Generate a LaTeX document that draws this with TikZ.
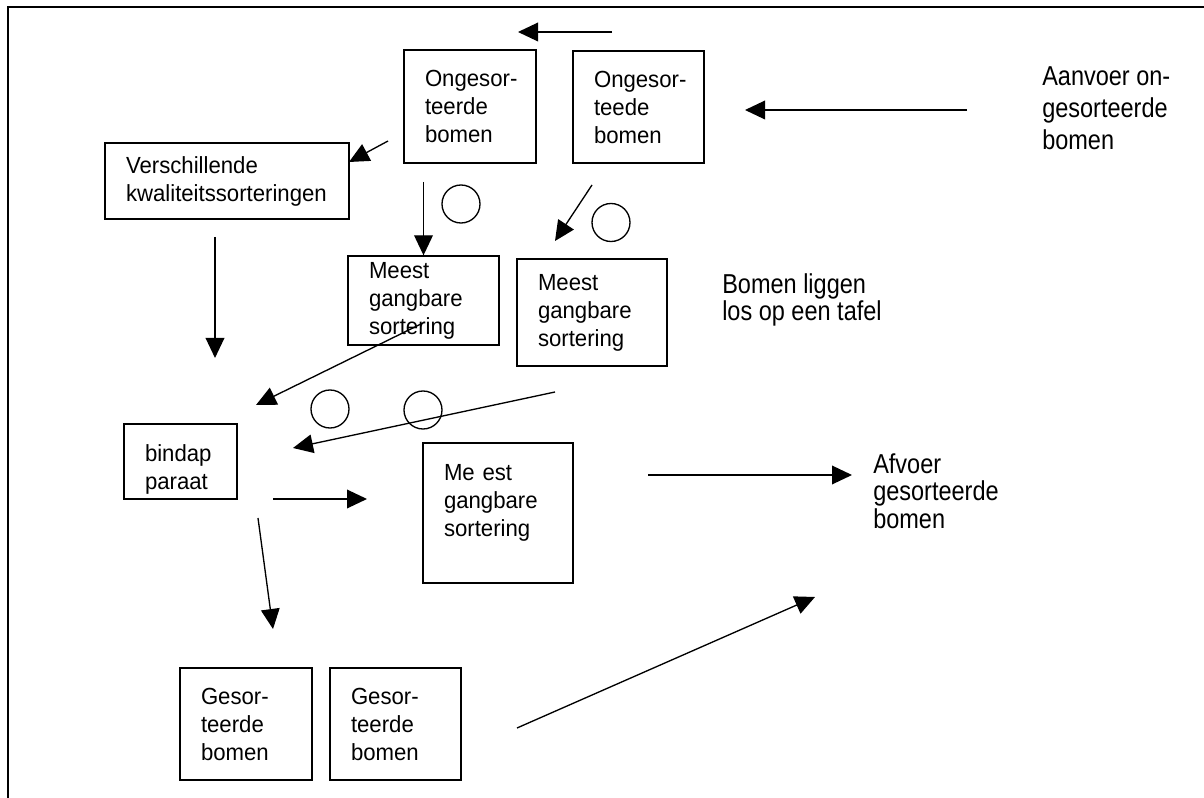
\documentclass[tikz,border=0pt]{standalone}
\usepackage{fontspec}
\setmainfont{Liberation Sans}[FakeStretch=0.95]
\newfontfamily\frfam{Liberation Sans}[FakeStretch=0.86]
\usetikzlibrary{arrows.meta}
\hyphenpenalty=10000
\exhyphenpenalty=10000
\newcommand\bxfont{\fontsize{17.5}{21}\selectfont}
\begin{document}
\begin{tikzpicture}[x=0.75pt,y=-0.75pt,
  box/.style={draw, line width=1pt, inner xsep=15.75pt, inner ysep=0pt, align=left, font=\bxfont},
  freetext/.style={inner sep=0pt, anchor=west, align=left},
  arr/.style={line width=1pt, -{Triangle[length=15pt,width=14pt]}},
  ring/.style={draw, circle, line width=1pt, minimum size=28.5pt, inner sep=0pt}]
\useasboundingbox (0,0) rectangle (1204,798);
% frame
\draw[line width=1.2pt] (8,798) -- (8,7) -- (1204,7);
% boxes
\node[box, text width=67.5pt, minimum height=84.75pt] (O1) at (470,106.5) {Ongesor-\\teerde\\bomen};
\node[box, text width=66.75pt, minimum height=84pt] (O2) at (638.5,107) {Ongesor-\\teede\\bomen};
\node[box, text width=151.5pt, minimum height=57pt] (V) at (227,181) {Verschillende\\kwaliteitssorteringen};
\node[box, text width=81.75pt, minimum height=66.75pt] (M1) at (423.5,300.5) {Meest\\gangbare\\sortering};
\node[box, text width=81pt, minimum height=80.25pt] (M2) at (592,312.5) {Meest\\gangbare\\sortering};
\node[box, text width=53.25pt, minimum height=56.25pt] (B) at (180.5,461.5) {\rule{0pt}{24pt}bindap\\paraat};
\node[box, text width=81pt, minimum height=105pt] (M3) at (498,513) {Me est\\gangbare\\sortering\rule[-19pt]{0pt}{19pt}};
\node[box, text width=67.5pt, minimum height=84pt] (G1) at (246,724) {Gesor-\\teerde\\bomen};
\node[box, text width=66.75pt, minimum height=84pt] (G2) at (395.5,724) {Gesor-\\teerde\\bomen};
% free texts
\node[freetext, font=\frfam\fontsize{20.5}{24}\selectfont] (aanvoer) at (1042,108.5) {Aanvoer on-\\gesorteerde\\bomen};
\node[freetext, font=\frfam\fontsize{20.5}{17.5}\selectfont] (tafel) at (722,300) {Bomen liggen\\los op een tafel};
\node[freetext, font=\frfam\fontsize{20.5}{20.6}\selectfont] (afvoer) at (873,491) {Afvoer\\gesorteerde\\bomen};
% circles
\node[ring] (c1) at (461,204) {};
\node[ring] (c2) at (611,222.5) {};
\node[ring] (c3) at (330,409) {};
\node[ring] (c4) at (423,410) {};
% arrow end points
\coordinate (a1s) at (612,32);  \coordinate (a1e) at (518,32);
\coordinate (a2s) at (967,110); \coordinate (a2e) at (745,110);
\coordinate (a3s) at (388,141); \coordinate (a3e) at (349,162);
\coordinate (a4s) at (423.5,182);
\coordinate (a5s) at (592,185); \coordinate (a5e) at (555,241);
\coordinate (a6s) at (215,237); \coordinate (a6e) at (215,358);
\coordinate (a7s) at (423,323); \coordinate (a7e) at (256,405);
\coordinate (a8s) at (555,392); \coordinate (a8e) at (293,448);
\coordinate (a9s) at (273,499); \coordinate (a9e) at (367,499);
\coordinate (a10s) at (258,518); \coordinate (a10e) at (273,629);
\coordinate (a11s) at (648,475); \coordinate (a11e) at (852,475);
\coordinate (a12s) at (517,728); \coordinate (a12e) at (815,597);
% arrows
\draw[arr] (a1s) -- (a1e);
\draw[arr] (a2s) -- (a2e);
\draw[arr] (a3s) -- (a3e);
\draw[arr] (a4s) -- (M1.north);
\draw[arr] (a5s) -- (a5e);
\draw[arr] (a6s) -- (a6e);
\draw[arr] (a7s) -- (a7e);
\draw[arr] (a8s) -- (a8e);
\draw[arr] (a9s) -- (a9e);
\draw[arr] (a10s) -- (a10e);
\draw[arr] (a11s) -- (a11e);
\draw[arr] (a12s) -- (a12e);
\end{tikzpicture}
\end{document}
